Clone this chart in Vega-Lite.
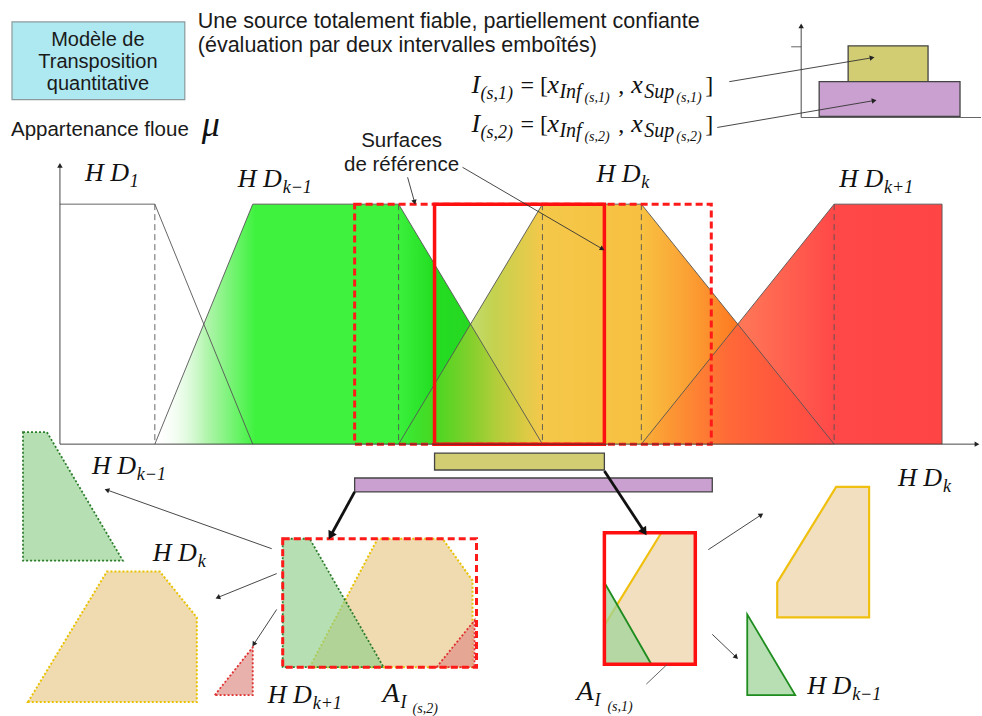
{
  "$schema": "https://vega.github.io/schema/vega-lite/v6.json",
  "width": 982,
  "height": 716,
  "autosize": {"type": "fit", "contains": "padding"},
  "padding": 0,
  "background": "white",
  "config": {"view": {"stroke": null}},
  "datasets": {
    "cyanBox": [{"x": 12, "y": 22, "x2": 185, "y2": 100}],
    "hdkm1": [
      {"x": 155, "y": 446, "y2": 446},
      {"x": 253, "y": 205, "y2": 446},
      {"x": 399, "y": 205, "y2": 446},
      {"x": 543, "y": 446, "y2": 446}
    ],
    "hdk": [
      {"x": 399, "y": 446, "y2": 446},
      {"x": 543, "y": 205, "y2": 446},
      {"x": 642, "y": 205, "y2": 446},
      {"x": 835, "y": 446, "y2": 446}
    ],
    "hdkp1": [
      {"x": 642, "y": 446, "y2": 446},
      {"x": 835, "y": 205, "y2": 446},
      {"x": 943, "y": 205, "y2": 446}
    ],
    "edges": [
      {"x": 60, "y": 205, "x2": 155, "y2": 205},
      {"x": 155, "y": 205, "x2": 253, "y2": 446},
      {"x": 155, "y": 446, "x2": 253, "y2": 205},
      {"x": 253, "y": 205, "x2": 399, "y2": 205},
      {"x": 399, "y": 205, "x2": 543, "y2": 446},
      {"x": 399, "y": 446, "x2": 543, "y2": 205},
      {"x": 543, "y": 205, "x2": 642, "y2": 205},
      {"x": 642, "y": 205, "x2": 835, "y2": 446},
      {"x": 642, "y": 446, "x2": 835, "y2": 205},
      {"x": 835, "y": 205, "x2": 943, "y2": 205},
      {"x": 943, "y": 205, "x2": 943, "y2": 446},
      {"x": 792, "y": 47, "x2": 802, "y2": 47}
    ],
    "dashedV": [
      {"x": 155, "y": 205, "x2": 155, "y2": 446},
      {"x": 399, "y": 205, "x2": 399, "y2": 446},
      {"x": 543, "y": 205, "x2": 543, "y2": 446},
      {"x": 642, "y": 205, "x2": 642, "y2": 446},
      {"x": 835, "y": 205, "x2": 835, "y2": 446}
    ],
    "hatchRects": [
      {"x": 435, "y": 455, "x2": 605, "y2": 472},
      {"x": 849, "y": 46, "x2": 929, "y2": 82}
    ],
    "purpleRects": [
      {"x": 355, "y": 480, "x2": 713, "y2": 494},
      {"x": 820, "y": 82, "x2": 961, "y2": 117}
    ],
    "tanDotted": [
      {"id": "L", "x": 28, "y": 705, "y2": 705},
      {"id": "L", "x": 107, "y": 574, "y2": 705},
      {"id": "L", "x": 160, "y": 574, "y2": 705},
      {"id": "L", "x": 197, "y": 620, "y2": 705},
      {"id": "B", "x": 310, "y": 670, "y2": 670},
      {"id": "B", "x": 378, "y": 541, "y2": 670},
      {"id": "B", "x": 443, "y": 541, "y2": 670},
      {"id": "B", "x": 473, "y": 583, "y2": 670}
    ],
    "greenDotted": [
      {"id": "L", "x": 23, "y": 434, "y2": 563},
      {"id": "L", "x": 47, "y": 434, "y2": 563},
      {"id": "L", "x": 123, "y": 563, "y2": 563},
      {"id": "B", "x": 283, "y": 541, "y2": 670},
      {"id": "B", "x": 310, "y": 541, "y2": 670},
      {"id": "B", "x": 384, "y": 670, "y2": 670}
    ],
    "redDotted": [
      {"id": "L", "x": 215, "y": 698, "y2": 698},
      {"id": "L", "x": 253, "y": 650, "y2": 698},
      {"id": "B", "x": 437, "y": 670, "y2": 670},
      {"id": "B", "x": 475, "y": 623, "y2": 670}
    ],
    "tanSolid": [
      {"id": "B", "x": 605, "y": 628, "y2": 667},
      {"id": "B", "x": 662, "y": 535, "y2": 667},
      {"id": "B", "x": 696, "y": 535, "y2": 667},
      {"id": "R", "x": 778, "y": 585, "y2": 620},
      {"id": "R", "x": 837, "y": 489, "y2": 620},
      {"id": "R", "x": 870, "y": 489, "y2": 620}
    ],
    "greenSolid": [
      {"id": "B", "x": 605, "y": 585, "y2": 667},
      {"id": "B", "x": 652, "y": 667, "y2": 667},
      {"id": "R", "x": 748, "y": 617, "y2": 698},
      {"id": "R", "x": 796, "y": 698, "y2": 698}
    ],
    "redDashed": [
      {"x": 355, "y": 205, "x2": 712, "y2": 446},
      {"x": 283, "y": 541, "x2": 477, "y2": 670}
    ],
    "redSolid": [
      {"x": 435, "y": 205, "x2": 605, "y2": 446},
      {"x": 605, "y": 535, "x2": 696, "y2": 667}
    ],
    "thinArrows": [
      {"x": 60, "y": 446, "x2": 978, "y2": 446},
      {"x": 60, "y": 446, "x2": 60, "y2": 166},
      {"x": 802, "y": 118, "x2": 802, "y2": 26},
      {"x": 272, "y": 551, "x2": 107, "y2": 492},
      {"x": 277, "y": 576, "x2": 218, "y2": 600},
      {"x": 277, "y": 612, "x2": 254, "y2": 647},
      {"x": 709, "y": 552, "x2": 762, "y2": 517},
      {"x": 713, "y": 637, "x2": 737, "y2": 660},
      {"x": 408, "y": 178, "x2": 415, "y2": 203},
      {"x": 463, "y": 168, "x2": 603, "y2": 250},
      {"x": 730, "y": 82, "x2": 873, "y2": 58},
      {"x": 718, "y": 128, "x2": 875, "y2": 101}
    ],
    "plainLines": [
      {"x": 802, "y": 118, "x2": 982, "y2": 118},
      {"x": 647, "y": 687, "x2": 668, "y2": 667}
    ],
    "boldArrows": [
      {"x": 355, "y": 494, "x2": 331, "y2": 538},
      {"x": 605, "y": 473, "x2": 645, "y2": 534}
    ],
    "sansBox": [
      {"x": 98, "y": 40, "t": "Modèle de"},
      {"x": 98, "y": 62, "t": "Transposition"},
      {"x": 98, "y": 84, "t": "quantitative"}
    ],
    "sansCenter": [
      {"x": 402, "y": 142, "t": "Surfaces"},
      {"x": 402, "y": 166, "t": "de référence"}
    ],
    "sansHeader": [
      {"x": 198, "y": 22, "t": "Une source totalement fiable, partiellement confiante"},
      {"x": 198, "y": 46, "t": "(évaluation par deux intervalles emboîtés)"}
    ],
    "sansLeft": [
      {"x": 11, "y": 131, "t": "Appartenance floue"}
    ],
    "mathHD": [
      {"x": 85, "y": 182, "t": "H D"},
      {"x": 238, "y": 188, "t": "H D"},
      {"x": 597, "y": 183, "t": "H D"},
      {"x": 840, "y": 188, "t": "H D"},
      {"x": 92, "y": 476, "t": "H D"},
      {"x": 153, "y": 563, "t": "H D"},
      {"x": 268, "y": 706, "t": "H D"},
      {"x": 899, "y": 488, "t": "H D"},
      {"x": 808, "y": 697, "t": "H D"},
      {"x": 472, "y": 93, "t": "I"},
      {"x": 548, "y": 93, "t": "x"},
      {"x": 632, "y": 93, "t": "x"},
      {"x": 472, "y": 133, "t": "I"},
      {"x": 548, "y": 133, "t": "x"},
      {"x": 632, "y": 133, "t": "x"}
    ],
    "mathA": [
      {"x": 383, "y": 705, "t": "A"},
      {"x": 577, "y": 703, "t": "A"}
    ],
    "mathMu": [{"x": 202, "y": 137, "t": "μ"}],
    "mathRoman": [
      {"x": 521, "y": 93, "t": "= ["},
      {"x": 619, "y": 93, "t": ","},
      {"x": 706, "y": 93, "t": "]"},
      {"x": 521, "y": 133, "t": "= ["},
      {"x": 619, "y": 133, "t": ","},
      {"x": 706, "y": 133, "t": "]"}
    ],
    "mathSub": [
      {"x": 130, "y": 188, "t": "1"},
      {"x": 283, "y": 194, "t": "k−1"},
      {"x": 642, "y": 189, "t": "k"},
      {"x": 885, "y": 194, "t": "k+1"},
      {"x": 137, "y": 482, "t": "k−1"},
      {"x": 198, "y": 569, "t": "k"},
      {"x": 313, "y": 712, "t": "k+1"},
      {"x": 944, "y": 494, "t": "k"},
      {"x": 853, "y": 703, "t": "k−1"},
      {"x": 401, "y": 711, "t": "I"},
      {"x": 595, "y": 709, "t": "I"},
      {"x": 481, "y": 99, "t": "(s,1)"},
      {"x": 481, "y": 139, "t": "(s,2)"}
    ],
    "mathSubWide": [
      {"x": 560, "y": 98, "t": "Inf"},
      {"x": 645, "y": 98, "t": "Sup"},
      {"x": 560, "y": 138, "t": "Inf"},
      {"x": 645, "y": 138, "t": "Sup"}
    ],
    "mathSubSub": [
      {"x": 585, "y": 102, "t": "(s,1)"},
      {"x": 677, "y": 102, "t": "(s,1)"},
      {"x": 585, "y": 142, "t": "(s,2)"},
      {"x": 677, "y": 142, "t": "(s,2)"},
      {"x": 413, "y": 716, "t": "(s,2)"},
      {"x": 608, "y": 714, "t": "(s,1)"}
    ]
  },
  "encoding": {
    "x": {"field": "x", "type": "quantitative", "scale": {"domain": [0, 982], "nice": false, "zero": false}, "axis": null},
    "y": {"field": "y", "type": "quantitative", "scale": {"domain": [0, 716], "nice": false, "zero": false, "reverse": true}, "axis": null}
  },
  "layer": [
    {
      "data": {"name": "cyanBox"},
      "mark": {"type": "rect", "fill": "#aee9f1", "stroke": "#8a9a9c", "strokeWidth": 1.2},
      "encoding": {"x2": {"field": "x2"}, "y2": {"field": "y2"}}
    },
    {
      "data": {"name": "hdkm1"},
      "mark": {"type": "area", "color": {"gradient": "linear", "x1": 0, "y1": 0, "x2": 1, "y2": 0, "stops": [
        {"offset": 0, "color": "rgba(255,255,255,0)"},
        {"offset": 0.13, "color": "#b5f5b0"},
        {"offset": 0.26, "color": "#3ef23e"},
        {"offset": 0.62, "color": "#3ef23e"},
        {"offset": 0.72, "color": "#22dd22"},
        {"offset": 1, "color": "#33cc22"}
      ]}},
      "encoding": {
        "y": {"field": "y", "type": "quantitative", "stack": null, "scale": {"domain": [0, 716], "nice": false, "zero": false, "reverse": true}, "axis": null},
        "y2": {"field": "y2"}
      }
    },
    {
      "data": {"name": "hdk"},
      "mark": {"type": "area", "color": {"gradient": "linear", "x1": 0, "y1": 0, "x2": 1, "y2": 0, "stops": [
        {"offset": 0, "color": "rgba(120,210,30,0)"},
        {"offset": 0.12, "color": "rgba(150,205,40,0.55)"},
        {"offset": 0.22, "color": "rgba(190,205,60,0.9)"},
        {"offset": 0.33, "color": "#f4c84a"},
        {"offset": 0.56, "color": "#f8c040"},
        {"offset": 0.66, "color": "#fba235"},
        {"offset": 0.82, "color": "#ff6a1a"},
        {"offset": 1, "color": "#ff2a10"}
      ]}},
      "encoding": {
        "y": {"field": "y", "type": "quantitative", "stack": null, "scale": {"domain": [0, 716], "nice": false, "zero": false, "reverse": true}, "axis": null},
        "y2": {"field": "y2"}
      }
    },
    {
      "data": {"name": "hdkp1"},
      "mark": {"type": "area", "color": {"gradient": "linear", "x1": 0, "y1": 0, "x2": 1, "y2": 0, "stops": [
        {"offset": 0, "color": "rgba(255,140,40,0.3)"},
        {"offset": 0.3, "color": "rgba(255,100,60,0.85)"},
        {"offset": 0.64, "color": "#ff4848"},
        {"offset": 1, "color": "#ff4444"}
      ]}},
      "encoding": {
        "y": {"field": "y", "type": "quantitative", "stack": null, "scale": {"domain": [0, 716], "nice": false, "zero": false, "reverse": true}, "axis": null},
        "y2": {"field": "y2"}
      }
    },
    {
      "data": {"name": "edges"},
      "mark": {"type": "rule", "color": "#555555", "strokeWidth": 0.9},
      "encoding": {"x2": {"field": "x2"}, "y2": {"field": "y2"}}
    },
    {
      "data": {"name": "dashedV"},
      "mark": {"type": "rule", "color": "#555555", "strokeWidth": 0.9, "strokeDash": [6, 4]},
      "encoding": {"x2": {"field": "x2"}, "y2": {"field": "y2"}}
    },
    {
      "data": {"name": "hatchRects"},
      "mark": {"type": "rect", "fill": "#d2cc72", "stroke": "#444444", "strokeWidth": 1.3},
      "encoding": {"x2": {"field": "x2"}, "y2": {"field": "y2"}}
    },
    {
      "data": {"name": "purpleRects"},
      "mark": {"type": "rect", "fill": "#c9a0cf", "stroke": "#444444", "strokeWidth": 1.3},
      "encoding": {"x2": {"field": "x2"}, "y2": {"field": "y2"}}
    },
    {
      "data": {"name": "tanDotted"},
      "mark": {"type": "area", "fill": "#f0dbb0", "stroke": "#e8c200", "strokeWidth": 2, "strokeDash": [2, 2]},
      "encoding": {
        "y": {"field": "y", "type": "quantitative", "stack": null, "scale": {"domain": [0, 716], "nice": false, "zero": false, "reverse": true}, "axis": null},
        "y2": {"field": "y2"},
        "detail": {"field": "id"}
      }
    },
    {
      "data": {"name": "greenDotted"},
      "mark": {"type": "area", "fill": "#8fd08a", "fillOpacity": 0.65, "stroke": "#2d7d2d", "strokeWidth": 1.8, "strokeDash": [2, 2]},
      "encoding": {
        "y": {"field": "y", "type": "quantitative", "stack": null, "scale": {"domain": [0, 716], "nice": false, "zero": false, "reverse": true}, "axis": null},
        "y2": {"field": "y2"},
        "detail": {"field": "id"}
      }
    },
    {
      "data": {"name": "redDotted"},
      "mark": {"type": "area", "fill": "#e09088", "fillOpacity": 0.7, "stroke": "#e03030", "strokeWidth": 1.8, "strokeDash": [2, 2]},
      "encoding": {
        "y": {"field": "y", "type": "quantitative", "stack": null, "scale": {"domain": [0, 716], "nice": false, "zero": false, "reverse": true}, "axis": null},
        "y2": {"field": "y2"},
        "detail": {"field": "id"}
      }
    },
    {
      "data": {"name": "tanSolid"},
      "mark": {"type": "area", "fill": "#f2dfbf", "stroke": "#f0c010", "strokeWidth": 2.2},
      "encoding": {
        "y": {"field": "y", "type": "quantitative", "stack": null, "scale": {"domain": [0, 716], "nice": false, "zero": false, "reverse": true}, "axis": null},
        "y2": {"field": "y2"},
        "detail": {"field": "id"}
      }
    },
    {
      "data": {"name": "greenSolid"},
      "mark": {"type": "area", "fill": "#9fd49a", "fillOpacity": 0.75, "stroke": "#1e8c1e", "strokeWidth": 1.8},
      "encoding": {
        "y": {"field": "y", "type": "quantitative", "stack": null, "scale": {"domain": [0, 716], "nice": false, "zero": false, "reverse": true}, "axis": null},
        "y2": {"field": "y2"},
        "detail": {"field": "id"}
      }
    },
    {
      "data": {"name": "redDashed"},
      "mark": {"type": "rect", "fill": null, "fillOpacity": 0, "stroke": "#ff1a1a", "strokeWidth": 3, "strokeDash": [7, 4]},
      "encoding": {"x2": {"field": "x2"}, "y2": {"field": "y2"}}
    },
    {
      "data": {"name": "redSolid"},
      "mark": {"type": "rect", "fill": null, "fillOpacity": 0, "stroke": "#ff1010", "strokeWidth": 3.5},
      "encoding": {"x2": {"field": "x2"}, "y2": {"field": "y2"}}
    },
    {
      "data": {"name": "thinArrows"},
      "mark": {"type": "rule", "color": "#333333", "strokeWidth": 0.9},
      "encoding": {"x2": {"field": "x2"}, "y2": {"field": "y2"}}
    },
    {
      "data": {"name": "thinArrows"},
      "transform": [{"calculate": "atan2(datum.x2 - datum.x, datum.y - datum.y2) * 180 / PI", "as": "angle"}],
      "mark": {"type": "point", "shape": "triangle-up", "filled": true, "color": "#222222", "opacity": 1, "size": 30},
      "encoding": {
        "x": {"field": "x2", "type": "quantitative", "scale": {"domain": [0, 982], "nice": false, "zero": false}, "axis": null},
        "y": {"field": "y2", "type": "quantitative", "scale": {"domain": [0, 716], "nice": false, "zero": false, "reverse": true}, "axis": null},
        "angle": {"field": "angle", "type": "quantitative", "scale": null}
      }
    },
    {
      "data": {"name": "plainLines"},
      "mark": {"type": "rule", "color": "#555555", "strokeWidth": 0.9},
      "encoding": {"x2": {"field": "x2"}, "y2": {"field": "y2"}}
    },
    {
      "data": {"name": "boldArrows"},
      "mark": {"type": "rule", "color": "#111111", "strokeWidth": 2.8},
      "encoding": {"x2": {"field": "x2"}, "y2": {"field": "y2"}}
    },
    {
      "data": {"name": "boldArrows"},
      "transform": [{"calculate": "atan2(datum.x2 - datum.x, datum.y - datum.y2) * 180 / PI", "as": "angle"}],
      "mark": {"type": "point", "shape": "triangle-up", "filled": true, "color": "#111111", "opacity": 1, "size": 90},
      "encoding": {
        "x": {"field": "x2", "type": "quantitative", "scale": {"domain": [0, 982], "nice": false, "zero": false}, "axis": null},
        "y": {"field": "y2", "type": "quantitative", "scale": {"domain": [0, 716], "nice": false, "zero": false, "reverse": true}, "axis": null},
        "angle": {"field": "angle", "type": "quantitative", "scale": null}
      }
    },
    {
      "data": {"name": "sansBox"},
      "mark": {"type": "text", "font": "Liberation Sans", "fontSize": 20, "align": "center", "baseline": "middle", "color": "#1a1a1a"},
      "encoding": {"text": {"field": "t"}}
    },
    {
      "data": {"name": "sansCenter"},
      "mark": {"type": "text", "font": "Liberation Sans", "fontSize": 20.5, "align": "center", "baseline": "middle", "color": "#1a1a1a"},
      "encoding": {"text": {"field": "t"}}
    },
    {
      "data": {"name": "sansHeader"},
      "mark": {"type": "text", "font": "Liberation Sans", "fontSize": 21.5, "align": "left", "baseline": "middle", "color": "#1a1a1a"},
      "encoding": {"text": {"field": "t"}}
    },
    {
      "data": {"name": "sansLeft"},
      "mark": {"type": "text", "font": "Liberation Sans", "fontSize": 20.5, "align": "left", "baseline": "middle", "color": "#1a1a1a"},
      "encoding": {"text": {"field": "t"}}
    },
    {
      "data": {"name": "mathHD"},
      "mark": {"type": "text", "font": "Liberation Serif", "fontStyle": "italic", "fontSize": 26, "align": "left", "baseline": "alphabetic", "color": "#111111"},
      "encoding": {"text": {"field": "t"}}
    },
    {
      "data": {"name": "mathA"},
      "mark": {"type": "text", "font": "Liberation Serif", "fontStyle": "italic", "fontSize": 28, "align": "left", "baseline": "alphabetic", "color": "#111111"},
      "encoding": {"text": {"field": "t"}}
    },
    {
      "data": {"name": "mathMu"},
      "mark": {"type": "text", "font": "Liberation Serif", "fontStyle": "italic", "fontSize": 36, "align": "left", "baseline": "alphabetic", "color": "#111111"},
      "encoding": {"text": {"field": "t"}}
    },
    {
      "data": {"name": "mathRoman"},
      "mark": {"type": "text", "font": "Liberation Serif", "fontSize": 24, "align": "left", "baseline": "alphabetic", "color": "#111111"},
      "encoding": {"text": {"field": "t"}}
    },
    {
      "data": {"name": "mathSub"},
      "mark": {"type": "text", "font": "Liberation Serif", "fontStyle": "italic", "fontSize": 18, "align": "left", "baseline": "alphabetic", "color": "#111111"},
      "encoding": {"text": {"field": "t"}}
    },
    {
      "data": {"name": "mathSubWide"},
      "mark": {"type": "text", "font": "Liberation Serif", "fontStyle": "italic", "fontSize": 20, "align": "left", "baseline": "alphabetic", "color": "#111111"},
      "encoding": {"text": {"field": "t"}}
    },
    {
      "data": {"name": "mathSubSub"},
      "mark": {"type": "text", "font": "Liberation Serif", "fontStyle": "italic", "fontSize": 14, "align": "left", "baseline": "alphabetic", "color": "#111111"},
      "encoding": {"text": {"field": "t"}}
    }
  ]
}
